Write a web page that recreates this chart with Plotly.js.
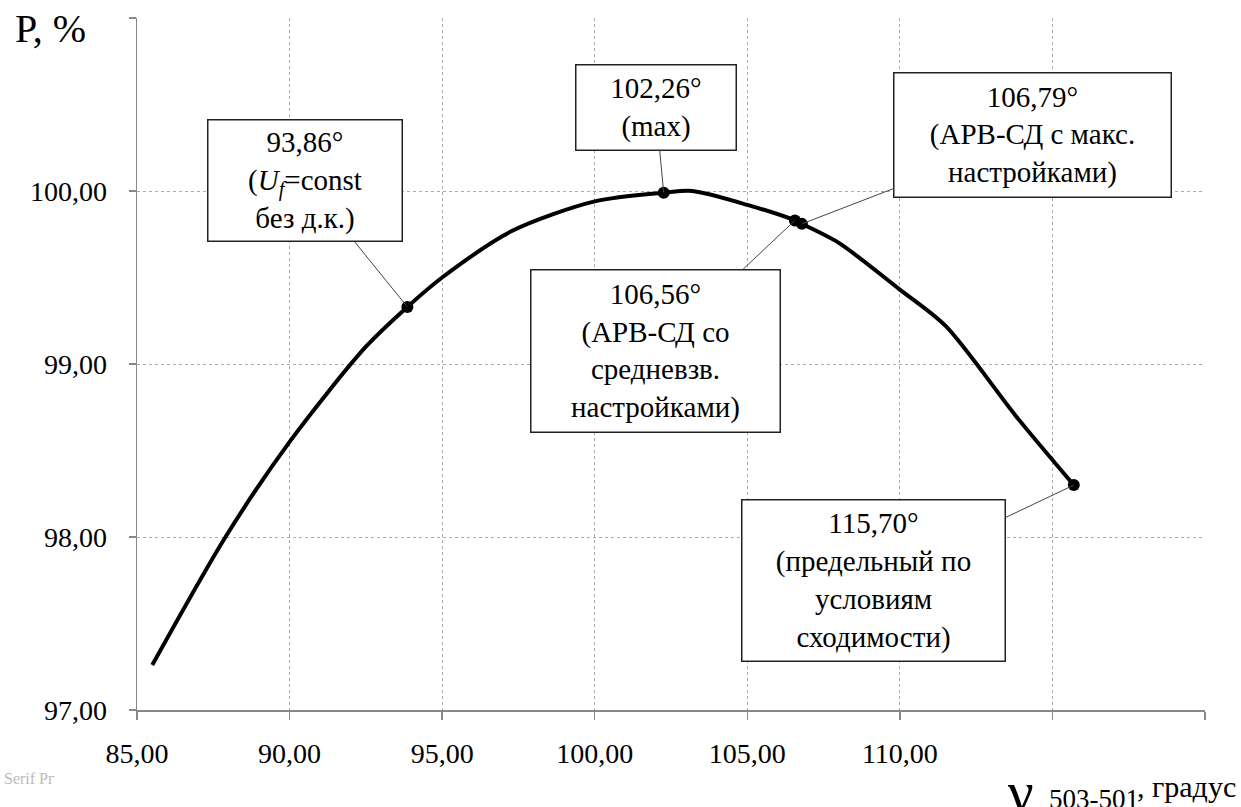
<!DOCTYPE html>
<html><head><meta charset="utf-8">
<script src="https://cdn.plot.ly/plotly-3.0.1.min.js"></script>
<style>
html,body{margin:0;padding:0;background:#fff}
#chart{width:1241px;height:807px}
#dbg{position:absolute;left:4px;top:770px;font-family:'Liberation Serif';font-size:16px;color:#bbb}
</style>
</head><body><div id="chart"></div><div id="dbg">Serif Рг</div>
<script>
// curve (gamma 503-501, degrees ; P, %)
const curveX = [85.50, 87.90, 90.00, 92.50, 93.86, 95.00, 97.30, 100.00, 102.26, 103.20, 105.00, 106.56, 106.79, 108.00, 110.00, 111.50, 113.80, 115.70];
const curveY = [97.26, 98.00, 98.55, 99.10, 99.33, 99.50, 99.77, 99.94, 99.99, 100.00, 99.92, 99.83, 99.81, 99.70, 99.43, 99.22, 98.70, 98.30];
// marked points
const pointX = [93.86, 102.26, 106.56, 106.79, 115.70];
const pointY = [99.33, 99.99, 99.83, 99.81, 98.30];
const pointLabels = [
  '93,86°<br>(<i>U</i><sub><i>f</i></sub>=const<br>без д.к.)',
  '102,26°<br>(max)',
  '106,56°<br>(АРВ-СД со<br>средневзв.<br>настройками)',
  '106,79°<br>(АРВ-СД с макс.<br>настройками)',
  '115,70°<br>(предельный по<br>условиям<br>сходимости)'
];
// ticks
const xTickVals = [85, 90, 95, 100, 105, 110, 115, 120];
const xTickText = ['85,00', '90,00', '95,00', '100,00', '105,00', '110,00', '', ''];
const yTickVals = [97, 98, 99, 100, 101];
const yTickText = ['97,00', '98,00', '99,00', '100,00', ''];
const yTitle = 'P, %';
const xTitleMain = 'γ';
const xTitleSub = '503-501';
const xTitleUnit = ', градус';

const SERIF = 'Liberation Serif';

const boxGeom = [
  [-102, -126, 193, 120],
  [-8, -85, 159, 84],
  [-139, 131, 248, 161],
  [231, -89, 276, 123],
  [-200, 95, 262, 160]
];

const annotations = pointX.map((x, i) => ({
  x: x, y: pointY[i], xref: 'x', yref: 'y',
  text: pointLabels[i],
  showarrow: true, arrowhead: 0, arrowwidth: 1, arrowcolor: '#444', standoff: 0,
  ax: boxGeom[i][0], ay: boxGeom[i][1],
  width: boxGeom[i][2], height: boxGeom[i][3],
  bgcolor: '#fff', bordercolor: '#222', borderwidth: 1.5, borderpad: 0,
  font: {family: SERIF, size: 29, color: '#000'}, align: 'center', valign: 'middle'
}));

annotations.push(
  {xref: 'paper', yref: 'paper', x: -0.116, y: 0.985, xanchor: 'left', yanchor: 'middle',
   text: yTitle, showarrow: false, font: {family: SERIF, size: 40, color: '#000'}},
  {xref: 'paper', yref: 'paper', x: 0.827, y: -0.118, xanchor: 'center', yanchor: 'middle',
   text: xTitleMain, showarrow: false, font: {family: SERIF, size: 58, color: '#000'}},
  {xref: 'paper', yref: 'paper', x: 0.852, y: -0.128, xanchor: 'left', yanchor: 'middle',
   text: xTitleSub, showarrow: false, font: {family: SERIF, size: 27, color: '#000'}},
  {xref: 'paper', yref: 'paper', x: 0.934, y: -0.110, xanchor: 'left', yanchor: 'middle',
   text: xTitleUnit, showarrow: false, font: {family: SERIF, size: 30, color: '#000'}}
);

const traces = [
  {x: curveX, y: curveY, mode: 'lines', type: 'scatter',
   line: {color: '#000', width: 4, shape: 'spline', smoothing: 0.8}, hoverinfo: 'skip'},
  {x: pointX, y: pointY, mode: 'markers', type: 'scatter',
   marker: {color: '#000', size: 12}}
];

const layout = {
  width: 1241, height: 807,
  margin: {l: 137, r: 36, t: 18, b: 97},
  paper_bgcolor: '#fff', plot_bgcolor: '#fff',
  showlegend: false,
  font: {family: SERIF, color: '#000'},
  xaxis: {
    range: [85, 120], tickvals: xTickVals, ticktext: xTickText,
    showgrid: true, gridcolor: '#aaa', griddash: 'dot', gridwidth: 1,
    showline: true, linecolor: '#888', linewidth: 1.5,
    ticks: 'outside', ticklen: 8, tickcolor: '#888', tickwidth: 1.5,
    tickfont: {family: SERIF, size: 28, color: '#000'}, ticklabelstandoff: 10,
    zeroline: false
  },
  yaxis: {
    range: [97, 101], tickvals: yTickVals, ticktext: yTickText,
    showgrid: true, gridcolor: '#aaa', griddash: 'dot', gridwidth: 1,
    showline: true, linecolor: '#888', linewidth: 1.5,
    ticks: 'outside', ticklen: 7, tickcolor: '#888', tickwidth: 1.5,
    tickfont: {family: SERIF, size: 28, color: '#000'}, ticklabelstandoff: 16,
    zeroline: false
  },
  annotations: annotations
};

Plotly.newPlot('chart', traces, layout, {displayModeBar: false, staticPlot: true}).then(function () {
  document.querySelectorAll('#chart text, #chart tspan').forEach(function (el) {
    el.style.setProperty('font-family', "'Liberation Serif', 'Times New Roman', Tinos, FreeSerif, serif", 'important');
  });
});
</script></body></html>
